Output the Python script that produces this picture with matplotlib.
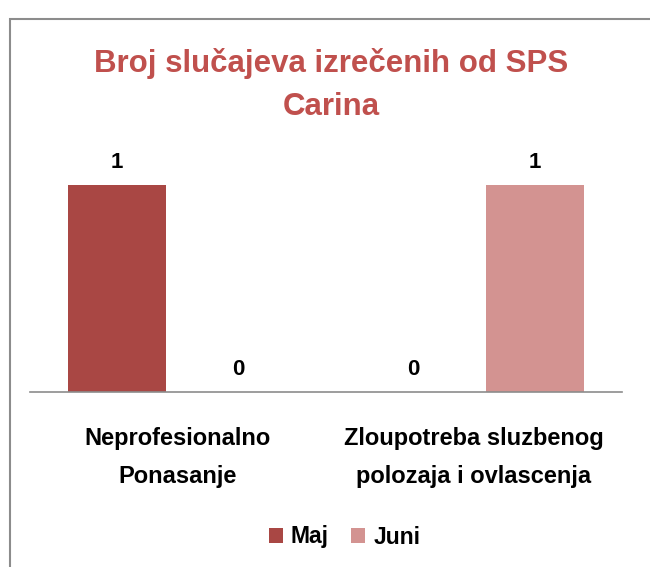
import matplotlib
matplotlib.use("Agg")
import matplotlib.pyplot as plt
from matplotlib.patches import Rectangle

categories = ["Neprofesionalno\nPonasanje", "Zloupotreba sluzbenog\npolozaja i ovlascenja"]
maj = [1, 0]
juni = [0, 1]
series_names = ["Maj", "Juni"]
title = "Broj slučajeva izrečenih od SPS\nCarina"

plt.rcParams['font.family'] = ['Liberation Sans', 'DejaVu Sans']
plt.rcParams['font.weight'] = 'bold'

fig = plt.figure(figsize=(6.5, 5.67), dpi=100)
ax = fig.add_axes([0.046, 0.3086, 0.911, 0.4374])

# outer chart border, runs off the right and bottom edges
fig.patches.append(Rectangle((10 / 650, -0.05), 1.0, 1 - 19 / 567 + 0.05,
                             transform=fig.transFigure, fill=False,
                             edgecolor="#8c8c8c", linewidth=1.5))

x = range(len(categories))
width = 0.33
offset = 0.205
bars_maj = ax.bar([i - offset for i in x], maj, width, color="#A94744", label=series_names[0])
bars_juni = ax.bar([i + offset for i in x], juni, width, color="#D39391", label=series_names[1])

for bars in (bars_maj, bars_juni):
    for b in bars:
        h = b.get_height()
        ax.text(b.get_x() + b.get_width() / 2, h + 0.06, str(int(h)),
                ha="center", va="bottom", fontsize=16, fontweight="bold")

ax.set_xlim(-0.5, 1.5)
ax.set_ylim(0, 1.2)
ax.set_yticks([])
ax.set_xticks(list(x))
ax.set_xticklabels(categories, fontsize=17, fontweight="bold", linespacing=1.85)
ax.tick_params(axis="x", length=0, pad=25)
for s in ("top", "right", "left"):
    ax.spines[s].set_visible(False)
ax.spines["bottom"].set_color("#8c8c8c")
ax.spines["bottom"].set_linewidth(1.2)

fig.text(0.51, 1 - 85 / 567, title, ha="center", va="center", fontsize=22.5,
         fontweight="bold", color="#C0504D", linespacing=1.6)

fig.legend(loc="center", bbox_to_anchor=(0.53, 1 - 537 / 567), ncol=2, frameon=False,
           fontsize=16.5, handlelength=0.6, handleheight=0.6, handletextpad=0.35,
           columnspacing=1.0)

fig.savefig("out.png", dpi=100)
